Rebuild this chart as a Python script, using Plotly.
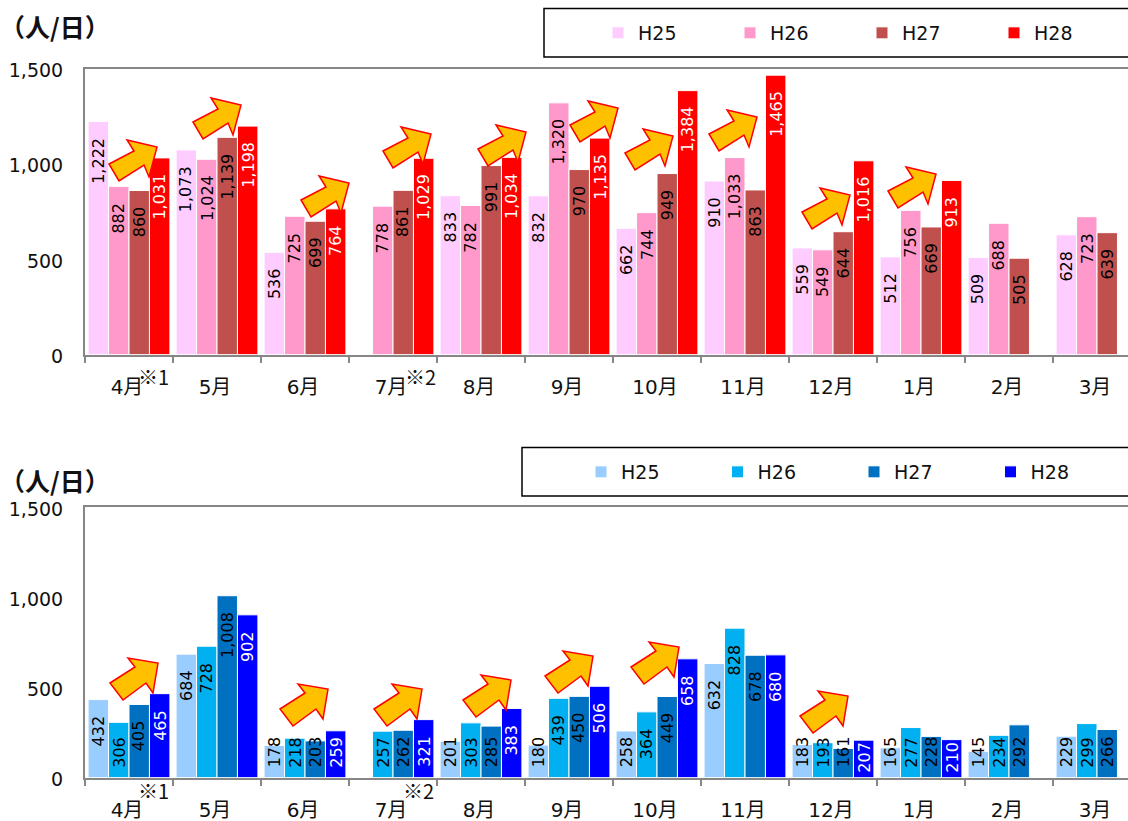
import plotly.graph_objects as go

W, H = 1128, 821
months = ["4月", "5月", "6月", "7月", "8月", "9月", "10月", "11月", "12月", "1月", "2月", "3月"]
series_names = ["H25", "H26", "H27", "H28"]

top_h25 = [1222, 1073, 536, None, 833, 832, 662, 910, 559, 512, 509, 628]
top_h26 = [882, 1024, 725, 778, 782, 1320, 744, 1033, 549, 756, 688, 723]
top_h27 = [860, 1139, 699, 861, 991, 970, 949, 863, 644, 669, 505, 639]
top_h28 = [1031, 1198, 764, 1029, 1034, 1135, 1384, 1465, 1016, 913, None, None]

bot_h25 = [432, 684, 178, None, 201, 180, 258, 632, 183, 165, 145, 229]
bot_h26 = [306, 728, 218, 257, 303, 439, 364, 828, 193, 277, 234, 299]
bot_h27 = [405, 1008, 203, 262, 285, 450, 449, 678, 161, 228, 292, 266]
bot_h28 = [465, 902, 259, 321, 383, 506, 658, 680, 207, 210, None, None]

top_colors = ["#FFCCFF", "#FF99CC", "#C0504D", "#FF0000"]
bot_colors = ["#99CCFF", "#00B0F0", "#0070C0", "#0000FF"]

# arrow tips in page pixels (decorations)
top_tips = [(157, 147), (241, 105), (349, 183), (431, 134), (526, 132), (618, 108), (673, 136), (757, 117), (850, 195), (936, 174)]
bot_tips = [(158, 663), (328, 689), (422, 689), (511, 680), (593, 656), (679, 647), (848, 696)]
TOP_ARROW = [(-48, 17), (-23, 4), (-30, -7), (0, 0), (-8, 30), (-13, 18), (-38, 34)]
BOT_ARROW = [(-48, 20), (-23, 4), (-30, -5), (0, 0), (-5, 30), (-12, 20), (-35, 37)]

FONT = "DejaVu Sans, Noto Sans CJK JP"
AX_COL = "#868686"
BARGAP = 0.07
SLOT = (1 - BARGAP) / 4
XMAX = (W - 85) / 88 - 0.5


def px(x):
    return x / W


def py(y):
    return 1 - y / H


fig = go.Figure()
charts = [
    ("x", "y", [top_h25, top_h26, top_h27, top_h28], top_colors, (68.5, 354.5), "legend"),
    ("x2", "y2", [bot_h25, bot_h26, bot_h27, bot_h28], bot_colors, (507, 777.5), "legend2"),
]
annotations = []
for xa, ya, data, colors, (ytop, ybot), leg in charts:
    per_value = (ybot - ytop) / 1500
    for s, (vals, name, col) in enumerate(zip(data, series_names, colors)):
        fig.add_trace(go.Bar(x=months, y=vals, name=name, xaxis=xa, yaxis=ya, legend=leg,
                             marker=dict(color=col, line=dict(color="white", width=1)),
                             offsetgroup=s))
        for i, v in enumerate(vals):
            if v is None:
                continue
            bar_h = v * per_value
            clamp = bar_h < 57
            base_shift = 4 if (s == 3 and bar_h < 40) else 9
            annotations.append(dict(
                x=i + (s - 1.5) * SLOT, y=0 if clamp else v, xref=xa, yref=ya,
                text=f"{v:,}", textangle=-90, showarrow=False,
                yanchor="bottom" if clamp else "top", xanchor="center",
                yshift=base_shift if clamp else -15, borderpad=0,
                font=dict(family=FONT, size=16, color="white" if s == 3 else "black")))

axis_common = dict(type="category", categoryorder="array", categoryarray=months, tickson="boundaries",
                   ticks="outside", ticklen=6, tickcolor=AX_COL, tickwidth=1.5, showline=True,
                   linecolor=AX_COL, linewidth=2, mirror=True, showgrid=False,
                   range=[-0.5, XMAX], domain=[px(85), 1], ticklabelstandoff=13, ticklabelshift=-2,
                   tickfont=dict(family=FONT, size=20, color="#111"))
yaxis_common = dict(range=[0, 1500], tickvals=[0, 500, 1000, 1500], ticktext=["0", "500", "1,000", "1,500"],
                    ticks="", showline=True, linecolor=AX_COL, linewidth=2, showgrid=False, zeroline=False,
                    ticklabelstandoff=16, ticklabelshift=2, tickfont=dict(family=FONT, size=19, color="#111"))

shapes = []
for tips, arrow in ((top_tips, TOP_ARROW), (bot_tips, BOT_ARROW)):
    for tx, ty in tips:
        path = "M" + " L".join(f"{dx},{-dy}" for dx, dy in arrow) + " Z"
        shapes.append(dict(type="path", path=path, xref="paper", yref="paper", xsizemode="pixel", ysizemode="pixel",
                           xanchor=px(tx), yanchor=py(ty), fillcolor="#FFC000", line=dict(color="#FF0000", width=1.5), layer="above"))
for x0, y0, y1 in ((544, 8.5, 57), (522, 447.5, 496)):
    shapes.append(dict(type="rect", xref="paper", yref="paper", x0=px(x0), x1=1.02, y0=py(y1), y1=py(y0),
                       line=dict(color="black", width=1.5), fillcolor="rgba(0,0,0,0)", layer="above"))

for x, y in ((54.5, 26), (54.5, 480)):
    annotations.append(dict(x=px(x), y=py(y), xref="paper", yref="paper", text="<b>（人/日）</b>", showarrow=False,
                            xanchor="center", yanchor="middle",
                            font=dict(family="Noto Sans CJK JP", size=25, color="#111")))
for x, y, t in ((153.5, 376, "※1"), (420, 376, "※2"), (153, 790, "※1"), (418, 790, "※2")):
    annotations.append(dict(x=px(x), y=py(y), xref="paper", yref="paper", text=t, showarrow=False,
                            xanchor="center", yanchor="middle",
                            font=dict(family="Noto Sans CJK JP", size=20, color="#111")))

legend_common = dict(orientation="h", entrywidthmode="pixels", bgcolor="rgba(0,0,0,0)",
                     font=dict(family=FONT, size=19, color="#111"), itemclick=False, itemdoubleclick=False,
                     xanchor="left", yanchor="middle")

fig.update_layout(
    width=W, height=H, margin=dict(l=0, r=0, t=0, b=0, autoexpand=False), paper_bgcolor="white", plot_bgcolor="white",
    barmode="group", bargap=BARGAP, bargroupgap=0,
    xaxis=dict(axis_common, anchor="y"),
    yaxis=dict(yaxis_common, domain=[py(354.5), py(68.5)], anchor="x"),
    xaxis2=dict(axis_common, anchor="y2"),
    yaxis2=dict(yaxis_common, domain=[py(777.5), py(507)], anchor="x2"),
    legend=dict(legend_common, x=px(598), y=py(33), entrywidth=87),
    legend2=dict(legend_common, x=px(581), y=py(472), entrywidth=91.5),
    shapes=shapes, annotations=annotations, showlegend=True,
)
fig.write_html("out.html", config=dict(displayModeBar=False), post_script="document.body.style.margin='0';")
